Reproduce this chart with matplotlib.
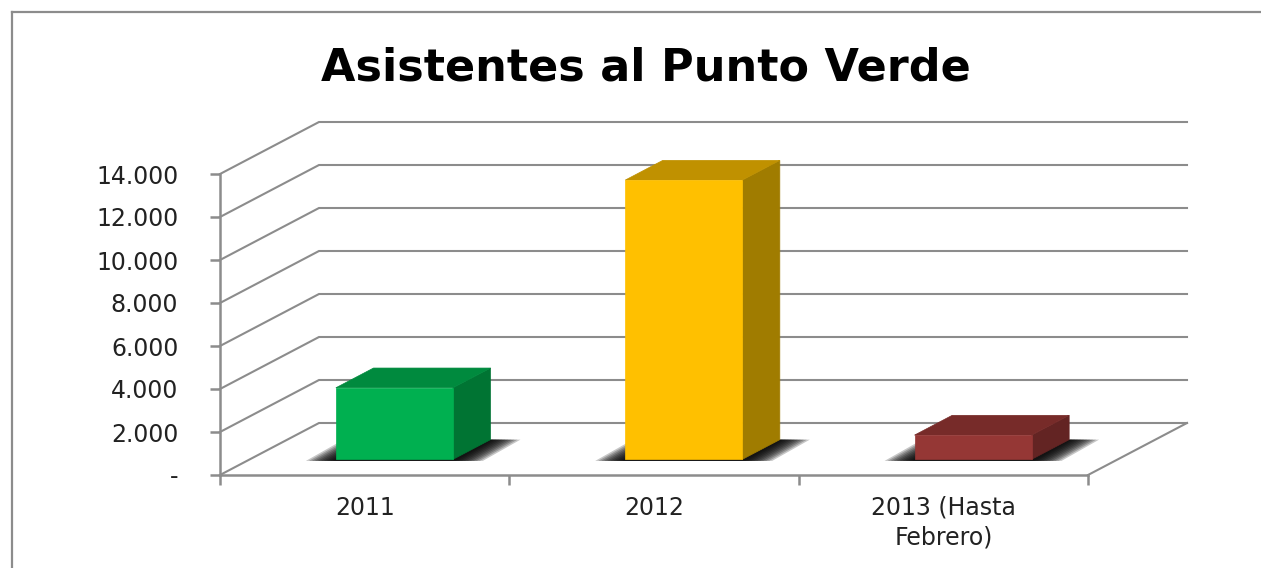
import matplotlib
matplotlib.use("Agg")
import matplotlib.pyplot as plt
from matplotlib.patches import Polygon
from matplotlib.lines import Line2D
import numpy as np

# ---- data ----
categories = ["2011", "2012", "2013 (Hasta\nFebrero)"]
values = [3330, 12990, 1130]
front_colors = ["#00B050", "#FFC000", "#953735"]
top_colors = ["#008A3E", "#C09100", "#772B29"]
side_colors = ["#007433", "#A07C00", "#632423"]
yticks = [0, 2000, 4000, 6000, 8000, 10000, 12000, 14000]
title = "Asistentes al Punto Verde"

W, H = 1261, 568
fig = plt.figure(figsize=(W / 100, H / 100), dpi=100)
fig.patch.set_facecolor("white")

# front plane of the 3D box (pixel layout)
ax_l, ax_r, ax_b, ax_t = 220, 1088, 475, 174
ax = fig.add_axes([ax_l / W, 1 - ax_b / H, (ax_r - ax_l) / W, (ax_b - ax_t) / H])
ax.set_xlim(-0.5, 2.5)
ax.set_ylim(0, 14000)
ax.set_facecolor("none")

grey = "#8C8C8C"
px_per_cat = (ax_r - ax_l) / 3.0
px_per_val = (ax_b - ax_t) / 14000.0
Dx = 99 / px_per_cat          # depth vector in data units
Dy = 52 / px_per_val

# back wall gridlines + left wall diagonals
for v in yticks:
    ax.plot([-0.5, -0.5 + Dx, 2.5 + Dx], [v, v + Dy, v + Dy],
            color=grey, lw=1.5, clip_on=False, zorder=1, solid_joinstyle="miter")
# floor right edge
ax.plot([2.5, 2.5 + Dx], [0, Dy], color=grey, lw=1.5, clip_on=False, zorder=1)

# spines / ticks
for s in ["top", "right"]:
    ax.spines[s].set_visible(False)
for s in ["left", "bottom"]:
    ax.spines[s].set_color(grey)
    ax.spines[s].set_linewidth(1.8)
    ax.spines[s].set_zorder(1)

def fmt(v):
    return "-" if v == 0 else f"{v:,}".replace(",", ".")

ax.set_yticks(yticks)
ax.set_yticklabels([fmt(v) for v in yticks])
ax.tick_params(axis="y", length=7, width=1.8, color=grey, pad=23,
               labelsize=17, labelcolor="#222222")
ax.set_xticks([-0.5, 0.5, 1.5, 2.5])
ax.set_xticklabels([])
ax.tick_params(axis="x", which="major", length=7, width=1.8, color=grey)
ax.set_xticks([0, 1, 2], minor=True)
ax.set_xticklabels(categories, minor=True, linespacing=1.32)
ax.tick_params(axis="x", which="minor", length=0, pad=15, labelsize=17,
               labelcolor="#222222")

# bars
f0, f1 = 0.30, 0.68
dd = f1 - f0
w = 117 / px_per_cat
for i, v in enumerate(values):
    x0 = i - w / 2 + f0 * Dx
    x1 = x0 + w
    y0 = f0 * Dy
    ddx, ddy = dd * Dx, dd * Dy
    # soft shadow on the floor
    for m in range(30, 0, -3):
        mm = m / px_per_cat
        sh = [(x0 - mm, y0 - 70), (x1 + mm, y0 - 70),
              (x1 + ddx + mm, y0 + ddy), (x0 + ddx - mm, y0 + ddy)]
        ax.add_patch(Polygon(sh, closed=True, facecolor="black", edgecolor="none",
                             alpha=0.22, clip_on=False, zorder=2))
    front = [(x0, y0), (x1, y0), (x1, y0 + v), (x0, y0 + v)]
    top = [(x0, y0 + v), (x1, y0 + v), (x1 + ddx, y0 + v + ddy), (x0 + ddx, y0 + v + ddy)]
    side = [(x1, y0), (x1 + ddx, y0 + ddy), (x1 + ddx, y0 + v + ddy), (x1, y0 + v)]
    for poly, c in [(side, side_colors[i]), (top, top_colors[i]), (front, front_colors[i])]:
        ax.add_patch(Polygon(poly, closed=True, facecolor=c, edgecolor=c, lw=0.5,
                             clip_on=False, zorder=3))

# title
fig.text(646 / W, 1 - 68 / H, title, ha="center", va="center",
         fontsize=32, fontweight="bold", color="black")

# outer chart frame
fig.add_artist(Line2D([12 / W, 12 / W], [0, 1 - 12 / H], color=grey, lw=1.6,
                      transform=fig.transFigure))
fig.add_artist(Line2D([12 / W, 1], [1 - 12 / H, 1 - 12 / H], color=grey, lw=1.6,
                      transform=fig.transFigure))

fig.savefig("out.png", dpi=100, facecolor="white")
